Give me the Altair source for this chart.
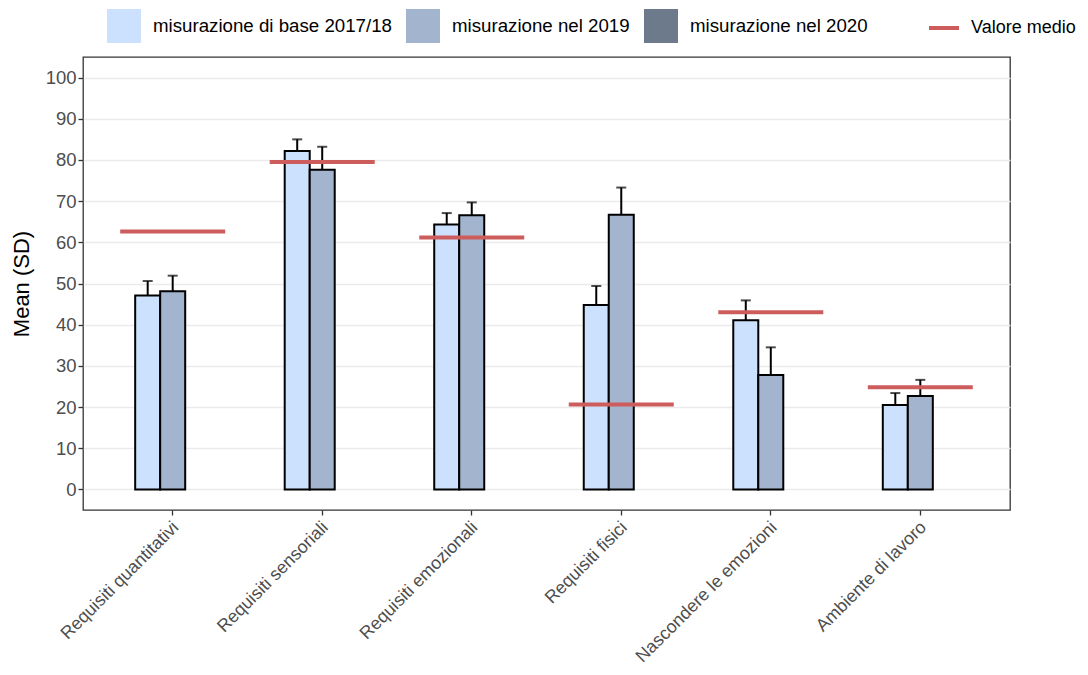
import altair as alt
import pandas as pd

categories = ["Requisiti quantitativi", "Requisiti sensoriali", "Requisiti emozionali",
              "Requisiti fisici", "Nascondere le emozioni", "Ambiente di lavoro"]
series = ["misurazione di base 2017/18", "misurazione nel 2019", "misurazione nel 2020"]
series_colors = ["#CCE1FD", "#A3B5CE", "#6C7A8C"]

mean_2017 = [47.1, 82.2, 64.3, 44.8, 41.1, 20.5]
sd_2017 = [3.5, 2.8, 2.8, 4.6, 4.8, 2.9]
mean_2019 = [48.1, 77.6, 66.6, 66.7, 27.8, 22.7]
sd_2019 = [3.8, 5.6, 3.1, 6.6, 6.7, 3.9]
valore_medio = [62.6, 79.5, 61.2, 20.6, 43.0, 24.8]
mean_label = "Valore medio"
y_ticks = list(range(0, 101, 10))

rows = []
for i, c in enumerate(categories):
    rows.append({"cat": c, "series": series[0], "mean": mean_2017[i], "upper": mean_2017[i] + sd_2017[i]})
    rows.append({"cat": c, "series": series[1], "mean": mean_2019[i], "upper": mean_2019[i] + sd_2019[i]})
bars_df = pd.DataFrame(rows)
avg_df = pd.DataFrame({"cat": categories, "val": valore_medio, "label": [mean_label] * len(categories)})

FONT = "Liberation Sans"

x_scale = alt.Scale(paddingInner=0.4983, paddingOuter=0.349)
x_enc = alt.X("cat:N", sort=categories, title=None, scale=x_scale,
              axis=alt.Axis(labelAngle=-45, labelAlign="right", labelBaseline="top",
                            labelFontSize=17.8, labelPadding=3, labelOffset=-3, labelColor="#4d4d4d",
                            labelLimit=400, ticks=True, tickSize=5, grid=False, domain=False))
xoff = alt.XOffset("series:N", scale=alt.Scale(domain=series, paddingInner=0, paddingOuter=0))
y_scale = alt.Scale(domain=[-5, 105], nice=False, zero=False)

bars = alt.Chart(bars_df).mark_bar(stroke="black", strokeWidth=2).encode(
    x=x_enc,
    xOffset=xoff,
    y=alt.Y("mean:Q", scale=y_scale, title="Mean (SD)",
            axis=alt.Axis(values=y_ticks, labelFontSize=18.5, labelColor="#4d4d4d", labelPadding=2,
                          titleFontSize=22, titleFontWeight="normal", titleColor="black", titlePadding=12,
                          tickSize=5, grid=True, gridColor="#ebebeb", gridWidth=1.5, domain=False)),
    y2=alt.datum(0),
    fill=alt.Fill("series:N", scale=alt.Scale(domain=series, range=series_colors),
                  legend=alt.Legend(title=None, orient="none", legendX=24, legendY=-48,
                                    direction="horizontal", symbolType="square", symbolSize=1156,
                                    symbolStrokeWidth=0, labelFontSize=18.7, labelOffset=12,
                                    labelLimit=400, columnPadding=14, labelColor="black", labelFont=FONT)),
)

err = alt.Chart(bars_df).mark_rule(color="black", strokeWidth=2).encode(
    x=alt.X("cat:N", sort=categories, scale=x_scale),
    xOffset=xoff,
    y=alt.Y("mean:Q", scale=y_scale),
    y2="upper:Q",
)

caps = alt.Chart(bars_df).mark_tick(color="black", size=10, thickness=2).encode(
    x=alt.X("cat:N", sort=categories, scale=x_scale),
    xOffset=xoff,
    y=alt.Y("upper:Q", scale=y_scale),
)

avg = alt.Chart(avg_df).mark_tick(size=105, thickness=4, opacity=1).encode(
    x=alt.X("cat:N", sort=categories, scale=x_scale),
    y=alt.Y("val:Q", scale=y_scale),
    color=alt.Color("label:N", scale=alt.Scale(domain=[mean_label], range=["#CD5C5C"]),
                    legend=alt.Legend(title=None, orient="none", legendX=844, legendY=-46,
                                      symbolType="stroke", symbolSize=900, symbolStrokeWidth=4,
                                      symbolStrokeColor="#CD5C5C", labelFontSize=18, labelOffset=10,
                                      labelLimit=300, labelColor="black", labelFont=FONT)),
)

chart = alt.layer(bars, err, caps, avg).resolve_scale(fill="independent", color="independent").properties(
    width=927, height=453,
    autosize=alt.AutoSizeParams(type="none"),
    padding={"left": 75, "top": 49, "right": 70, "bottom": 157},
).configure_view(stroke="#333333", strokeWidth=1.3).configure_axis(
    labelFont=FONT, titleFont=FONT, tickColor="#333333", tickWidth=1.3,
).configure_legend(labelFont=FONT)

chart.save("out.html", embed_options={"renderer": "svg", "actions": False})
